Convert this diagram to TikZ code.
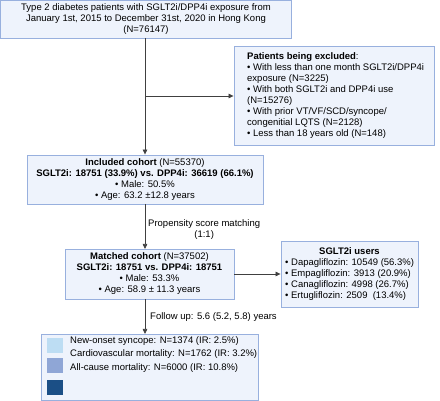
\documentclass[tikz,border=0pt]{standalone}
\usepackage{fontspec}
\setmainfont{Liberation Sans}
\usetikzlibrary{arrows.meta,calc}
\definecolor{boxfill}{HTML}{EEF3FC}
\definecolor{boxline}{HTML}{98B0DE}
\definecolor{sqa}{HTML}{BDDDF3}
\definecolor{sqb}{HTML}{8FA6D6}
\definecolor{sqc}{HTML}{1B4F86}
\tikzset{
  flowbox/.style={draw=boxline, fill=boxfill, line width=0.9pt, inner sep=0pt, font=\fontsize{9.5}{11}\selectfont},
  conn/.style={draw=black!75, line width=0.7pt, -{Triangle[length=5pt,width=4.5pt]}},
  lbl/.style={font=\fontsize{9.5}{11}\selectfont, inner sep=0pt},
  sq/.style={minimum width=16pt, minimum height=15pt, inner sep=0pt, draw=none}
}
\begin{document}
\begin{tikzpicture}[x=1pt,y=-1pt]
\useasboundingbox (0,0) rectangle (440,401);
\node[flowbox, minimum width=291pt, minimum height=38pt, align=center] (top) at (146,19)
  {Type 2 diabetes patients with SGLT2i/DPP4i exposure from\\January 1st, 2015 to December 31st, 2020 in Hong Kong\\(N=76147)};
\node[flowbox, minimum width=200pt, minimum height=99pt] (excl) at (334,95.5) {};
\node[lbl, anchor=north west, align=left] (excltext) at (247,52)
  {\textbf{Patients being excluded}:\\
   • With less than one month SGLT2i/DPP4i\\
   exposure (N=3225)\\
   • With both SGLT2i and DPP4i use\\
   (N=15276)\\
   • With prior VT/VF/SCD/syncope/\\
   congenitial LQTS (N=2128)\\
   • Less than 18 years old (N=148)};
\node[flowbox, minimum width=236pt, minimum height=49pt, align=center] (incl) at (145,179.5)
  {\textbf{Included cohort} (N=55370)\\
   \textbf{SGLT2i: 18751 (33.9\%) vs. DPP4i: 36619 (66.1\%)}\\
   • Male: 50.5\%\\
   • Age: 63.2 ±12.8 years};
\node[flowbox, minimum width=169pt, minimum height=50pt, align=center] (match) at (149.5,274)
  {\textbf{Matched cohort} (N=37502)\\
   \textbf{SGLT2i: 18751 vs. DPP4i: 18751}\\
   • Male: 53.3\%\\
   • Age: 58.9 ± 11.3 years};
\node[flowbox, minimum width=137pt, minimum height=66pt] (users) at (349.5,274) {};
\node[lbl, anchor=north] (userstitle) at (349.5,247) {\textbf{SGLT2i users}};
\node[lbl, anchor=north west, align=left] (userstext) at (285,258)
  {• Dapagliflozin: 10549 (56.3\%)\\
   • Empagliflozin: 3913 (20.9\%)\\
   • Canagliflozin: 4998 (26.7\%)\\
   • Ertugliflozin: 2509 \ (13.4\%)};
\node[flowbox, minimum width=217pt, minimum height=66pt] (out) at (149.5,367) {};
\node[sq, fill=sqa] (sa) at (54.5,345.5) {};
\node[sq, fill=sqb] (sb) at (54.5,366) {};
\node[sq, fill=sqc] (sc) at (54.5,388) {};
\node[lbl, anchor=north west, align=left, font=\fontsize{9.5}{13.8}\selectfont] (outtext) at (70,336)
  {New-onset syncope: N=1374 (IR: 2.5\%)\\
   Cardiovascular mortality: N=1762 (IR: 3.2\%)\\
   All-cause mortality: N=6000 (IR: 10.8\%)};
\coordinate (tb) at (145,38);
\coordinate (br) at (145,96);
\draw[conn] (tb) -- (tb |- incl.north);
\draw[conn] (br) -- (br -| excl.west);
\draw[conn] (145,204) -- (145,249);
\draw[conn] (match.east) -- (users.west);
\draw[conn] (145,299) -- (145,334);
\node[lbl, anchor=west, align=center] (psm) at (148,230) {Propensity score matching\\(1:1)};
\node[lbl, anchor=west] (fu) at (150,317) {Follow up: 5.6 (5.2, 5.8) years};
\end{tikzpicture}
\end{document}
